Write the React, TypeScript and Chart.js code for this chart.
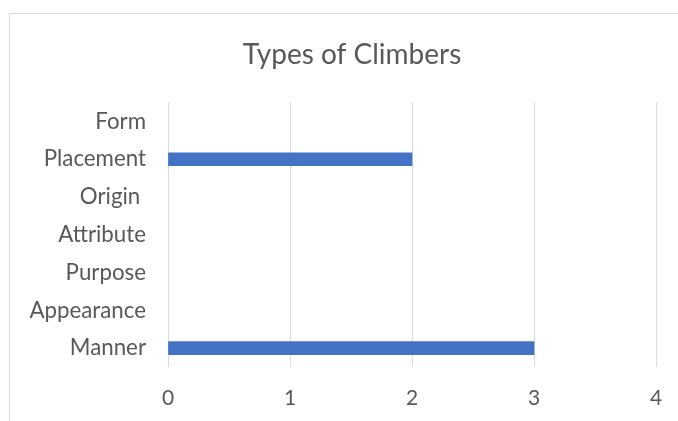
import React, { useEffect, useRef } from "react";
import { Chart, registerables } from "chart.js";

Chart.register(...registerables);

const categories = ["Form", "Placement", "Origin ", "Attribute", "Purpose", "Appearance", "Manner"];
const values = [0, 2, 0, 0, 0, 0, 3];
const xTicks = [0, 1, 2, 3, 4];
const titleText = "Types of Climbers";

const centerTitlePlugin = {
  id: "centerTitle",
  afterLayout(chart: any) {
    const tb = chart.titleBlock;
    if (tb) {
      tb.left = 0;
      tb.right = chart.width;
      tb.width = chart.width;
    }
  },
};

export default function App() {
  const ref = useRef<HTMLCanvasElement>(null);
  useEffect(() => {
    if (!ref.current) return;
    const font = "Lato, 'Open Sans', sans-serif";
    const chart = new Chart(ref.current, {
      type: "bar",
      data: {
        labels: categories,
        datasets: [
          {
            data: values,
            backgroundColor: (ctx: any) => (ctx.raw === 0 ? "rgba(0,0,0,0)" : "#4472C4"),
            barThickness: 13,
          },
        ],
      },
      plugins: [centerTitlePlugin],
      options: {
        indexAxis: "y",
        animation: false,
        responsive: false,
        maintainAspectRatio: false,
        layout: { padding: { left: 0, right: 38, top: 0, bottom: 0 } },
        plugins: {
          legend: { display: false },
          tooltip: { enabled: false },
          title: {
            display: true,
            text: titleText,
            color: "#595959",
            font: { family: font, size: 28, weight: "normal" },
            padding: { top: 24, bottom: 31 },
          },
        },
        scales: {
          x: {
            min: xTicks[0],
            max: xTicks[xTicks.length - 1],
            afterBuildTicks: (s: any) => {
              s.ticks = xTicks.map((v) => ({ value: v }));
            },
            afterFit: (s: any) => {
              s.height = 54;
            },
            ticks: {
              stepSize: 1,
              color: "#595959",
              font: { family: font, size: 21 },
              padding: 19,
            },
            grid: { color: "#d9d9d9", drawTicks: false, lineWidth: 1 },
            border: { display: false },
          },
          y: {
            afterFit: (s: any) => {
              s.width = 158;
            },
            ticks: {
              color: "#595959",
              font: { family: font, size: 22.3 },
              padding: 22,
            },
            grid: { display: false, drawTicks: false },
            border: { display: false },
          },
        },
      },
    });
    return () => chart.destroy();
  }, []);
  return (
    <div style={{ position: "fixed", left: 0, top: 0, width: 678, height: 421, overflow: "hidden", background: "#fff" }}>
      <div
        style={{
          position: "absolute",
          left: 9,
          top: 13,
          width: 684,
          height: 420,
          borderLeft: "1px solid #d9d9d9",
          borderTop: "1px solid #d9d9d9",
        }}
      >
        <canvas ref={ref} width={684} height={407} style={{ display: "block", width: 684, height: 407 }} />
      </div>
    </div>
  );
}
